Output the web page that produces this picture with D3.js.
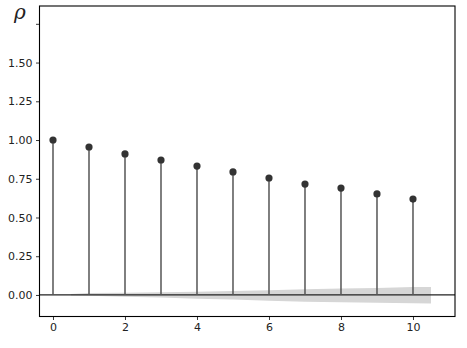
<!DOCTYPE html>
<html><head><meta charset="utf-8">
<script src="https://cdn.jsdelivr.net/npm/d3@7"></script>
<style>body{margin:0;background:#fff}svg{display:block}</style>
</head><body>
<svg id="c" width="467" height="348"></svg>
<script>
const lags = [0,1,2,3,4,5,6,7,8,9,10];
const acf = [1.00,0.955,0.91,0.871,0.832,0.794,0.755,0.716,0.69,0.652,0.619];
const bandLags = [0.5,1,2,3,4,5,6,7,8,9,10,10.5];
const bandUpper = [0.006,0.012,0.015,0.018,0.021,0.025,0.03,0.037,0.041,0.045,0.051,0.052];
const bandLower = [-0.003,-0.005,-0.011,-0.017,-0.024,-0.03,-0.037,-0.043,-0.047,-0.051,-0.054,-0.055];
const xTicks = [0,2,4,6,8,10];
const yTicks = [0,0.25,0.5,0.75,1.0,1.25,1.5,1.75];
const yTickLabels = ["0.00","0.25","0.50","0.75","1.00","1.25","1.50",""];
const yLabel = "ρ";

const L=39.5,R=455,T=6,B=316.5;
const svg=d3.select("#c");
const x=d3.scaleLinear().domain([-0.375,11.167]).range([L,R]);
const y=d3.scaleLinear().domain([-0.139,1.865]).range([B,T]);

// band
const area=d3.area().x((d,i)=>x(bandLags[i])).y0((d,i)=>y(bandLower[i])).y1((d,i)=>y(bandUpper[i]));
svg.append("path").datum(bandLags).attr("d",area).attr("fill","#d6d6d6");

// zero line
svg.append("line").attr("x1",L).attr("x2",R).attr("y1",y(0)).attr("y2",y(0)).attr("stroke","#222").attr("stroke-width",1.2);

// stems
svg.selectAll(".stem").data(lags).enter().append("line")
 .attr("x1",d=>x(d)).attr("x2",d=>x(d)).attr("y1",y(0)).attr("y2",(d,i)=>y(acf[i]))
 .attr("stroke","#555").attr("stroke-width",1.5);
svg.selectAll(".pt").data(lags).enter().append("circle")
 .attr("cx",d=>x(d)).attr("cy",(d,i)=>y(acf[i])).attr("r",3.6).attr("fill","#333");

// axes
const gx=svg.append("g").attr("transform",`translate(0,${B})`)
 .call(d3.axisBottom(x).tickValues(xTicks).tickSize(3.5).tickPadding(3.5).tickFormat(d3.format("d")));
const gy=svg.append("g").attr("transform",`translate(${L},0)`)
 .call(d3.axisLeft(y).tickValues(yTicks).tickSize(3.5).tickPadding(3.5).tickFormat((d,i)=>yTickLabels[i]));
[gx,gy].forEach(g=>{g.select(".domain").remove();
 g.selectAll("text").attr("font-family","DejaVu Sans").attr("font-size","11px").attr("fill","#222");
 g.selectAll("line").attr("stroke","#222").attr("stroke-width",0.9);});

// frame
svg.append("rect").attr("x",L).attr("y",T).attr("width",R-L).attr("height",B-T)
 .attr("fill","none").attr("stroke","#000").attr("stroke-width",1.1);

svg.append("text").attr("x",14).attr("y",19).text(yLabel)
 .attr("font-family","DejaVu Serif").attr("font-style","italic").attr("font-size","20px").attr("fill","#222");
</script>
</body></html>
